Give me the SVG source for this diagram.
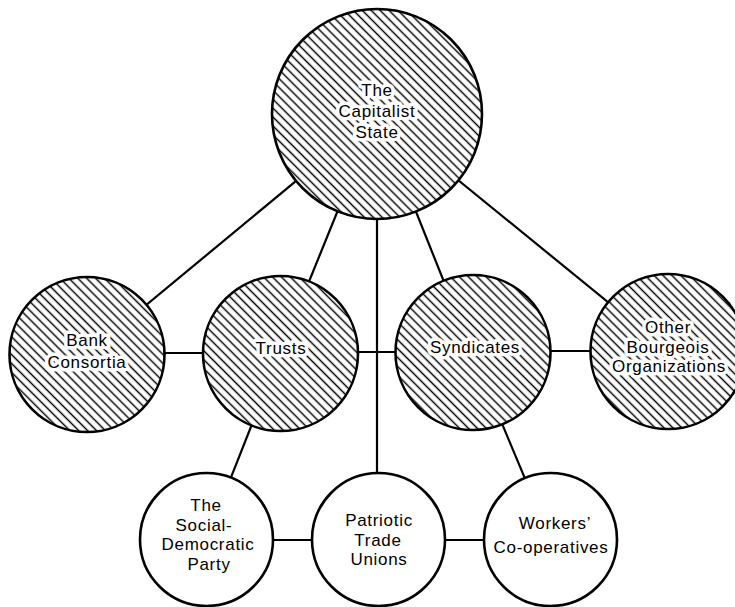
<svg xmlns="http://www.w3.org/2000/svg" width="735" height="607" viewBox="0 0 735 607">
<style>
.c{stroke:#000;stroke-width:2.6}
.h{fill:url(#hatch)}
.w{fill:#fff}
.l{stroke:#000;stroke-width:2.2;fill:none}
text{font-family:"Liberation Sans",Arial,Helvetica,sans-serif;font-size:17px;letter-spacing:0.7px;text-anchor:middle;fill:#000}
.k{stroke:#fff;stroke-width:7;stroke-linejoin:round;paint-order:stroke}
</style>
<defs>
<pattern id="hatch" patternUnits="userSpaceOnUse" width="6.3" height="6.3" patternTransform="rotate(-45)">
<rect width="6.3" height="6.3" fill="#fff"/>
<line x1="3.15" y1="-1" x2="3.15" y2="7.3" stroke="#000" stroke-width="1.45"/>
</pattern>
</defs>
<rect width="735" height="607" fill="#fff"/>
<g id="connectors">
<line class="l" x1="377" y1="114" x2="87" y2="354"/>
<line class="l" x1="377" y1="114" x2="280" y2="353"/>
<line class="l" x1="377" y1="114" x2="377" y2="480"/>
<line class="l" x1="377" y1="114" x2="472" y2="352"/>
<line class="l" x1="377" y1="114" x2="668" y2="351"/>
<line class="l" x1="87" y1="353" x2="280" y2="353"/>
<line class="l" x1="280" y1="352" x2="472" y2="352"/>
<line class="l" x1="472" y1="351" x2="668" y2="351"/>
<line class="l" x1="280" y1="353" x2="206.5" y2="539.5"/>
<line class="l" x1="472" y1="352" x2="550.5" y2="539.5"/>
<line class="l" x1="206.5" y1="540" x2="378.5" y2="540"/>
<line class="l" x1="378.5" y1="540" x2="550.5" y2="540"/>
</g>
<g id="state">
<circle class="c h" cx="377" cy="114" r="105"/>
<text class="k" x="377" y="96">The</text>
<text class="k" x="377" y="117">Capitalist</text>
<text class="k" x="377" y="138">State</text>
</g>
<g id="bank">
<circle class="c h" cx="87" cy="354.5" r="77.5"/>
<text class="k" x="87" y="346">Bank</text>
<text class="k" x="87" y="368">Consortia</text>
</g>
<g id="trusts">
<circle class="c h" cx="280.5" cy="353.5" r="77.5"/>
<text class="k" x="281" y="354">Trusts</text>
</g>
<g id="syndicates">
<circle class="c h" cx="473" cy="352.5" r="77.5"/>
<text class="k" x="475" y="353">Syndicates</text>
</g>
<g id="other">
<circle class="c h" cx="668" cy="351.5" r="77.5"/>
<text class="k" x="668" y="333">Other</text>
<text class="k" x="668" y="353">Bourgeois</text>
<text class="k" x="669" y="372">Organizations</text>
</g>
<g id="social">
<circle class="c w" cx="206.5" cy="539.5" r="66.5"/>
<text x="206" y="511">The</text>
<text x="204" y="530.5">Social-</text>
<text x="208" y="550">Democratic</text>
<text x="209" y="569.5">Party</text>
</g>
<g id="patriotic">
<circle class="c w" cx="378.5" cy="539.5" r="66.5"/>
<text x="379" y="526">Patriotic</text>
<text x="378" y="545.5">Trade</text>
<text x="379" y="565">Unions</text>
</g>
<g id="workers">
<circle class="c w" cx="550.5" cy="539.5" r="66.5"/>
<text x="555" y="529">Workers’</text>
<text x="551" y="553">Co-operatives</text>
</g>
</svg>
